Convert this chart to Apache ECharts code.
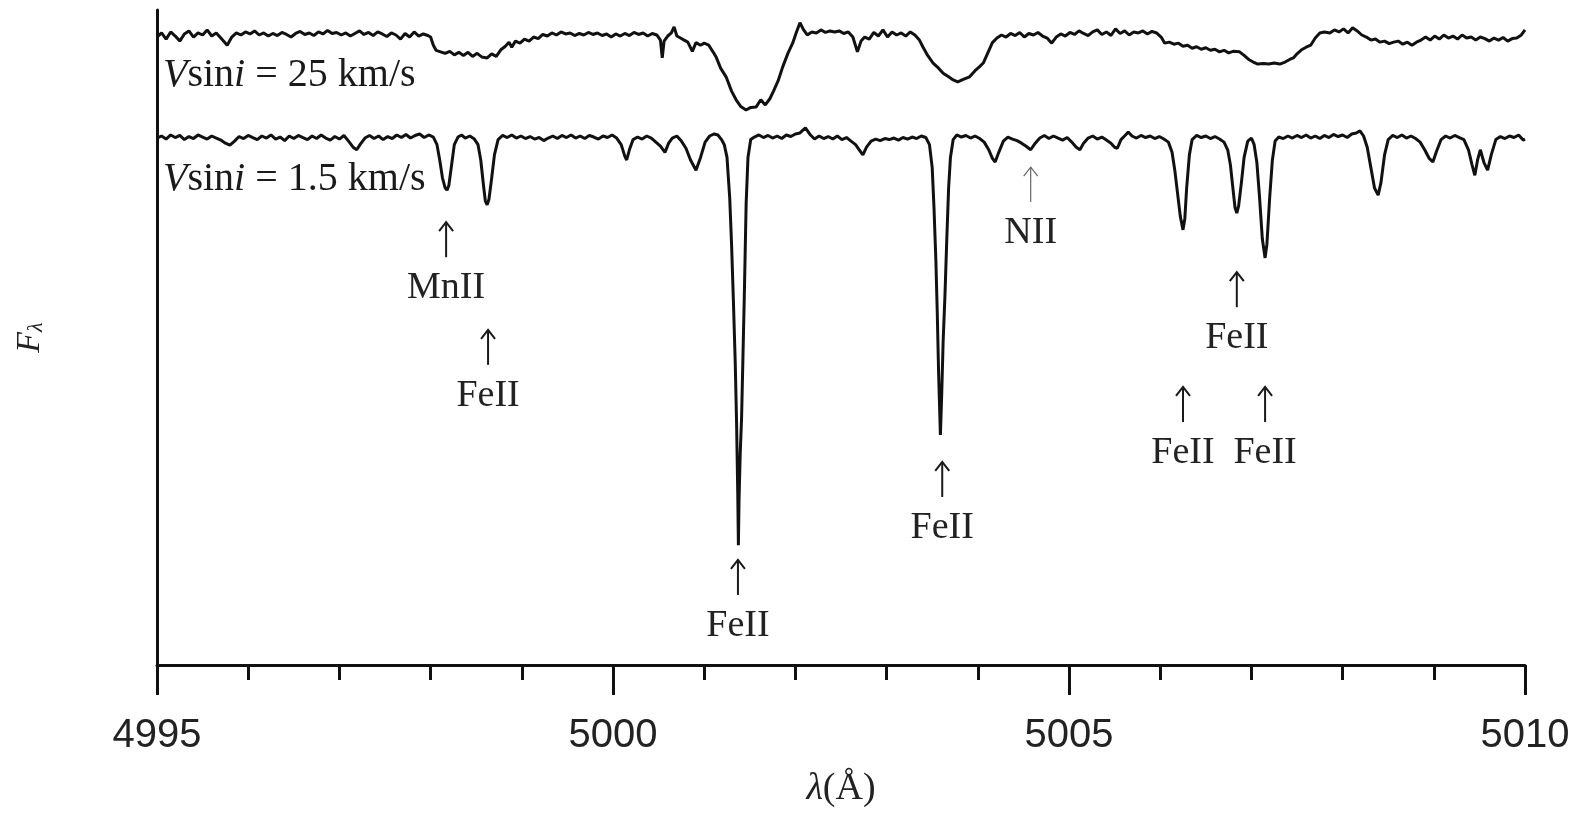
<!DOCTYPE html>
<html>
<head>
<meta charset="utf-8">
<title>Spectra</title>
<script src="https://cdn.jsdelivr.net/npm/echarts/dist/echarts.min.js"></script>
<style>
  html, body { margin: 0; padding: 0; background: #fff; }
  #chart { width: 1576px; height: 813px; }
</style>
</head>
<body>
<div id="chart"></div>
<script>
// Vsini = 1.5 km/s, normalised flux (continuum = 1)
const slowSpectrum = [
  [4995.00,0.998],[4995.05,1.002],[4995.10,0.996],[4995.15,1.004],[4995.20,0.999],[4995.25,1.003],
  [4995.30,0.995],[4995.35,1.001],[4995.40,0.997],[4995.45,1.004],[4995.50,1.000],[4995.55,0.996],
  [4995.60,1.002],[4995.65,0.998],[4995.70,0.994],[4995.75,0.988],[4995.80,0.984],[4995.85,0.992],
  [4995.90,1.001],[4995.95,0.997],[4996.00,1.003],[4996.05,0.999],[4996.10,0.995],[4996.15,1.002],
  [4996.20,0.998],[4996.25,1.004],[4996.30,0.996],[4996.35,1.000],[4996.40,0.993],[4996.45,1.002],
  [4996.50,0.997],[4996.55,1.003],[4996.60,0.999],[4996.65,0.995],[4996.70,1.002],[4996.75,0.997],
  [4996.80,1.004],[4996.85,0.998],[4996.90,0.994],[4996.95,1.001],[4997.00,0.996],[4997.05,1.003],
  [4997.10,0.992],[4997.15,0.980],[4997.19,0.975],[4997.23,0.986],[4997.28,0.998],[4997.33,1.003],
  [4997.38,0.997],[4997.43,1.002],[4997.48,0.995],[4997.53,1.001],[4997.58,0.997],[4997.63,1.004],
  [4997.68,0.999],[4997.73,1.005],[4997.78,0.998],[4997.83,1.003],[4997.88,1.006],[4997.93,0.999],
  [4997.98,1.004],[4998.03,1.000],[4998.07,0.985],[4998.10,0.955],[4998.13,0.920],[4998.16,0.900],
  [4998.18,0.896],[4998.20,0.905],[4998.23,0.945],[4998.26,0.985],[4998.30,1.000],[4998.34,1.004],
  [4998.38,0.998],[4998.43,1.002],[4998.48,0.996],[4998.52,0.985],[4998.55,0.955],[4998.58,0.905],
  [4998.60,0.875],[4998.62,0.867],[4998.64,0.878],[4998.67,0.920],[4998.70,0.965],[4998.74,0.995],
  [4998.79,1.003],[4998.84,0.999],[4998.89,1.004],[4998.94,0.998],[4998.99,1.002],[4999.04,0.997],
  [4999.09,1.001],[4999.14,0.996],[4999.19,0.999],[4999.24,0.993],[4999.29,0.998],[4999.34,1.002],
  [4999.39,0.997],[4999.44,1.003],[4999.49,0.999],[4999.54,1.004],[4999.59,0.998],[4999.64,1.002],
  [4999.69,0.997],[4999.74,1.003],[4999.79,1.000],[4999.84,0.996],[4999.89,1.002],[4999.94,0.999],
  [4999.99,1.004],[5000.04,0.998],[5000.09,0.985],[5000.13,0.962],[5000.15,0.955],[5000.18,0.975],
  [5000.22,0.995],[5000.27,1.000],[5000.32,0.996],[5000.37,1.002],[5000.42,0.998],[5000.47,0.990],
  [5000.52,0.982],[5000.57,0.970],[5000.61,0.988],[5000.65,0.998],[5000.70,1.002],[5000.75,0.992],
  [5000.80,0.978],[5000.85,0.955],[5000.91,0.935],[5000.96,0.960],[5001.01,0.990],[5001.06,1.002],
  [5001.11,1.006],[5001.15,1.004],[5001.19,0.995],[5001.22,0.985],[5001.25,0.960],[5001.28,0.880],
  [5001.30,0.790],[5001.32,0.680],[5001.34,0.560],[5001.355,0.440],[5001.368,0.300],[5001.375,0.200],
  [5001.382,0.290],[5001.395,0.380],[5001.41,0.450],[5001.425,0.570],[5001.44,0.690],[5001.46,0.870],
  [5001.48,0.960],[5001.51,0.995],[5001.55,1.000],[5001.60,1.004],[5001.65,0.999],[5001.70,1.003],
  [5001.75,0.998],[5001.80,1.002],[5001.85,0.997],[5001.90,1.004],[5001.95,1.001],[5002.00,1.006],
  [5002.05,1.008],[5002.11,1.018],[5002.16,1.005],[5002.21,0.996],[5002.26,1.002],[5002.31,0.997],
  [5002.36,1.001],[5002.41,0.996],[5002.46,1.002],[5002.51,0.995],[5002.56,0.999],[5002.61,0.992],
  [5002.66,0.985],[5002.70,0.975],[5002.74,0.965],[5002.78,0.980],[5002.83,0.992],[5002.88,0.996],
  [5002.93,0.993],[5002.98,0.997],[5003.03,0.995],[5003.08,0.998],[5003.13,0.994],[5003.18,0.999],
  [5003.23,0.996],[5003.28,1.000],[5003.33,0.997],[5003.38,1.002],[5003.43,0.999],[5003.47,0.985],
  [5003.50,0.940],[5003.52,0.860],[5003.54,0.760],[5003.555,0.660],[5003.57,0.540],[5003.59,0.416],
  [5003.605,0.500],[5003.62,0.600],[5003.64,0.690],[5003.66,0.800],[5003.68,0.900],[5003.70,0.960],
  [5003.73,0.995],[5003.77,1.004],[5003.82,1.000],[5003.87,1.003],[5003.92,0.998],[5003.97,1.002],
  [5004.02,0.997],[5004.07,0.990],[5004.12,0.975],[5004.16,0.958],[5004.19,0.951],[5004.23,0.970],
  [5004.28,0.992],[5004.33,1.000],[5004.38,0.996],[5004.43,0.993],[5004.48,0.988],[5004.53,0.982],
  [5004.58,0.975],[5004.63,0.988],[5004.68,0.998],[5004.73,1.003],[5004.78,0.997],[5004.83,1.002],
  [5004.88,0.998],[5004.93,0.994],[5004.98,0.999],[5005.03,0.990],[5005.08,0.980],[5005.12,0.975],
  [5005.16,0.988],[5005.21,0.998],[5005.26,1.002],[5005.31,0.996],[5005.36,1.000],[5005.41,0.994],
  [5005.46,0.988],[5005.50,0.980],[5005.53,0.978],[5005.57,0.995],[5005.62,1.004],[5005.65,1.010],
  [5005.69,1.002],[5005.74,0.998],[5005.79,1.003],[5005.84,0.999],[5005.89,1.002],[5005.94,0.997],
  [5005.99,1.001],[5006.04,0.996],[5006.09,0.990],[5006.13,0.970],[5006.16,0.935],[5006.19,0.890],
  [5006.22,0.845],[5006.25,0.818],[5006.27,0.840],[5006.29,0.900],[5006.32,0.965],[5006.35,0.995],
  [5006.40,1.003],[5006.45,0.999],[5006.50,1.002],[5006.55,0.997],[5006.60,1.001],[5006.65,0.996],
  [5006.70,0.990],[5006.74,0.975],[5006.77,0.945],[5006.80,0.895],[5006.82,0.862],[5006.84,0.851],
  [5006.86,0.865],[5006.89,0.910],[5006.92,0.960],[5006.96,0.992],[5007.00,0.998],[5007.03,0.985],
  [5007.06,0.950],[5007.09,0.880],[5007.12,0.800],[5007.15,0.763],[5007.17,0.790],[5007.20,0.880],
  [5007.23,0.955],[5007.26,0.992],[5007.30,1.000],[5007.35,0.997],[5007.40,1.002],[5007.45,0.998],
  [5007.50,1.003],[5007.55,0.999],[5007.60,1.004],[5007.65,0.998],[5007.70,1.002],[5007.75,0.997],
  [5007.80,1.003],[5007.85,0.999],[5007.90,1.005],[5007.95,1.001],[5008.00,1.004],[5008.05,0.999],
  [5008.10,1.006],[5008.15,1.008],[5008.19,1.012],[5008.23,1.002],[5008.27,0.980],[5008.31,0.940],
  [5008.35,0.900],[5008.39,0.886],[5008.42,0.910],[5008.46,0.965],[5008.50,0.995],[5008.55,1.003],
  [5008.60,0.999],[5008.65,1.004],[5008.70,0.998],[5008.75,1.002],[5008.80,0.997],[5008.85,0.990],
  [5008.90,0.975],[5008.95,0.958],[5008.99,0.951],[5009.03,0.972],[5009.08,0.995],[5009.13,1.002],
  [5009.18,0.998],[5009.23,1.003],[5009.28,0.999],[5009.33,0.995],[5009.38,0.975],[5009.42,0.945],
  [5009.45,0.925],[5009.48,0.955],[5009.51,0.975],[5009.55,0.950],[5009.59,0.935],[5009.63,0.965],
  [5009.68,0.995],[5009.73,1.001],[5009.78,0.997],[5009.83,1.002],[5009.88,0.999],[5009.93,1.004],
  [5009.98,0.994],[5010.00,0.996]
];

// Vsini = 25 km/s, shifted up by 0.2
const fastSpectrum = [
  [4995.00,1.196],[4995.05,1.204],[4995.10,1.192],[4995.15,1.206],[4995.20,1.198],[4995.25,1.188],
  [4995.30,1.202],[4995.35,1.208],[4995.40,1.196],[4995.45,1.204],[4995.50,1.200],[4995.55,1.210],
  [4995.60,1.198],[4995.65,1.204],[4995.70,1.194],[4995.77,1.180],[4995.82,1.196],[4995.87,1.204],
  [4995.92,1.200],[4995.97,1.206],[4996.02,1.202],[4996.07,1.208],[4996.12,1.200],[4996.17,1.204],
  [4996.22,1.198],[4996.27,1.203],[4996.32,1.199],[4996.37,1.205],[4996.42,1.201],[4996.47,1.196],
  [4996.52,1.203],[4996.57,1.207],[4996.62,1.201],[4996.67,1.204],[4996.72,1.199],[4996.77,1.206],
  [4996.82,1.202],[4996.87,1.209],[4996.92,1.203],[4996.97,1.205],[4997.02,1.200],[4997.07,1.204],
  [4997.12,1.198],[4997.17,1.203],[4997.22,1.208],[4997.27,1.201],[4997.32,1.205],[4997.37,1.199],
  [4997.42,1.206],[4997.47,1.202],[4997.52,1.197],[4997.57,1.204],[4997.62,1.200],[4997.67,1.192],
  [4997.72,1.203],[4997.77,1.196],[4997.82,1.206],[4997.87,1.198],[4997.92,1.202],[4997.97,1.199],
  [4998.00,1.196],[4998.03,1.180],[4998.06,1.170],[4998.11,1.167],[4998.16,1.164],[4998.21,1.168],
  [4998.26,1.161],[4998.31,1.166],[4998.36,1.160],[4998.41,1.166],[4998.46,1.158],[4998.51,1.164],
  [4998.56,1.157],[4998.62,1.155],[4998.67,1.163],[4998.72,1.158],[4998.77,1.171],[4998.82,1.178],
  [4998.86,1.186],[4998.89,1.176],[4998.93,1.188],[4998.98,1.184],[4999.03,1.192],[4999.08,1.188],
  [4999.13,1.196],[4999.18,1.193],[4999.23,1.201],[4999.28,1.198],[4999.33,1.204],[4999.38,1.200],
  [4999.43,1.206],[4999.48,1.202],[4999.53,1.204],[4999.58,1.199],[4999.63,1.203],[4999.68,1.200],
  [4999.73,1.205],[4999.78,1.201],[4999.83,1.204],[4999.88,1.199],[4999.93,1.202],[4999.98,1.196],
  [5000.03,1.202],[5000.08,1.198],[5000.13,1.203],[5000.18,1.199],[5000.23,1.205],[5000.28,1.201],
  [5000.33,1.204],[5000.38,1.198],[5000.43,1.203],[5000.48,1.200],[5000.52,1.190],[5000.54,1.155],
  [5000.56,1.188],[5000.60,1.198],[5000.64,1.204],[5000.67,1.216],[5000.70,1.198],[5000.74,1.194],
  [5000.78,1.190],[5000.82,1.186],[5000.87,1.168],[5000.91,1.185],[5000.96,1.180],[5001.00,1.184],
  [5001.05,1.180],[5001.10,1.166],[5001.13,1.157],[5001.18,1.135],[5001.24,1.118],[5001.30,1.090],
  [5001.35,1.073],[5001.40,1.060],[5001.46,1.053],[5001.51,1.058],[5001.57,1.059],[5001.62,1.073],
  [5001.67,1.063],[5001.72,1.075],[5001.76,1.090],[5001.81,1.110],[5001.86,1.137],[5001.92,1.165],
  [5001.97,1.184],[5002.01,1.205],[5002.05,1.224],[5002.09,1.210],[5002.13,1.200],[5002.18,1.206],
  [5002.23,1.204],[5002.28,1.210],[5002.33,1.205],[5002.38,1.208],[5002.43,1.206],[5002.48,1.208],
  [5002.53,1.203],[5002.58,1.206],[5002.63,1.196],[5002.68,1.167],[5002.72,1.188],[5002.76,1.196],
  [5002.81,1.192],[5002.86,1.205],[5002.91,1.198],[5002.96,1.210],[5003.01,1.196],[5003.06,1.206],
  [5003.11,1.200],[5003.16,1.204],[5003.21,1.198],[5003.26,1.206],[5003.31,1.200],[5003.36,1.190],
  [5003.40,1.176],[5003.45,1.160],[5003.51,1.145],[5003.57,1.135],[5003.62,1.125],[5003.68,1.118],
  [5003.73,1.112],[5003.78,1.108],[5003.84,1.113],[5003.91,1.118],[5003.97,1.130],[5004.02,1.138],
  [5004.06,1.145],[5004.11,1.165],[5004.16,1.185],[5004.21,1.194],[5004.26,1.200],[5004.31,1.196],
  [5004.36,1.203],[5004.41,1.199],[5004.46,1.205],[5004.51,1.196],[5004.56,1.203],[5004.61,1.200],
  [5004.66,1.205],[5004.71,1.198],[5004.76,1.194],[5004.81,1.184],[5004.86,1.196],[5004.91,1.202],
  [5004.96,1.198],[5005.01,1.205],[5005.06,1.201],[5005.11,1.208],[5005.16,1.203],[5005.21,1.199],
  [5005.26,1.206],[5005.31,1.210],[5005.36,1.201],[5005.41,1.206],[5005.46,1.199],[5005.51,1.212],
  [5005.56,1.203],[5005.61,1.208],[5005.66,1.200],[5005.71,1.206],[5005.76,1.204],[5005.81,1.208],
  [5005.86,1.202],[5005.91,1.207],[5005.96,1.204],[5006.01,1.196],[5006.05,1.184],[5006.10,1.186],
  [5006.15,1.182],[5006.20,1.184],[5006.25,1.178],[5006.30,1.180],[5006.35,1.174],[5006.40,1.177],
  [5006.45,1.172],[5006.50,1.175],[5006.55,1.170],[5006.60,1.172],[5006.65,1.167],[5006.70,1.170],
  [5006.75,1.165],[5006.80,1.168],[5006.87,1.167],[5006.92,1.160],[5006.97,1.152],[5007.02,1.147],
  [5007.07,1.143],[5007.13,1.144],[5007.19,1.143],[5007.25,1.145],[5007.31,1.143],[5007.37,1.147],
  [5007.42,1.152],[5007.46,1.155],[5007.50,1.163],[5007.55,1.171],[5007.60,1.176],[5007.65,1.180],
  [5007.70,1.194],[5007.75,1.204],[5007.80,1.206],[5007.86,1.204],[5007.91,1.210],[5007.96,1.206],
  [5008.01,1.212],[5008.06,1.204],[5008.11,1.214],[5008.16,1.208],[5008.21,1.200],[5008.26,1.196],
  [5008.31,1.190],[5008.36,1.192],[5008.41,1.186],[5008.46,1.188],[5008.51,1.183],[5008.56,1.186],
  [5008.61,1.188],[5008.66,1.182],[5008.71,1.186],[5008.76,1.180],[5008.81,1.186],[5008.86,1.190],
  [5008.91,1.196],[5008.96,1.190],[5009.01,1.198],[5009.06,1.192],[5009.11,1.200],[5009.16,1.194],
  [5009.21,1.198],[5009.26,1.192],[5009.31,1.200],[5009.36,1.194],[5009.41,1.196],[5009.46,1.190],
  [5009.51,1.196],[5009.56,1.193],[5009.61,1.188],[5009.66,1.194],[5009.71,1.190],[5009.76,1.195],
  [5009.81,1.188],[5009.86,1.193],[5009.91,1.194],[5009.96,1.200],[5010.00,1.210]
];

// line identifications: wavelength, flux level of the arrow tip, ion
const lineWave = [4998.17, 4998.63, 5001.37, 5003.61, 5004.58, 5006.84, 5006.25, 5007.15];
const lineTip = [0.833, 0.622, 0.171, 0.363, 0.941, 0.735, 0.510, 0.510];
const lineIon = ['MnII', 'FeII', 'FeII', 'FeII', 'NII', 'FeII', 'FeII', 'FeII'];

const serif = '"Liberation Serif", "Times New Roman", serif';
const sans = '"Liberation Sans", Arial, sans-serif';
const ink = '#111';

const chart = echarts.init(document.getElementById('chart'));

function vsiniText(rest) {
  return {
    text: '{it|V}{rm|sin}{it|i}{rm|' + rest + '}',
    rich: {
      it: { fontFamily: serif, fontStyle: 'italic', fontSize: 40, fill: '#1a1a1a' },
      rm: { fontFamily: serif, fontSize: 40, fill: '#1a1a1a' }
    },
    verticalAlign: 'middle'
  };
}

chart.setOption({
  animation: false,
  backgroundColor: '#fff',
  grid: { left: 157, right: 51, top: 10, bottom: 148, outerBoundsMode: 'none', containLabel: false },
  xAxis: {
    type: 'value',
    min: 4995,
    max: 5010,
    interval: 5,
    axisLine: { onZero: false, lineStyle: { color: ink, width: 3 } },
    axisTick: { show: true, inside: false, length: 30, lineStyle: { color: ink, width: 3 } },
    minorTick: { show: true, splitNumber: 5, length: 15, lineStyle: { color: ink, width: 3 } },
    splitLine: { show: false },
    axisLabel: { fontSize: 40, fontFamily: sans, color: '#222', margin: 51, formatter: v => String(v) },
    name: '{l|λ}{n|(Å)}',
    nameLocation: 'middle',
    nameGap: 105,
    nameTextStyle: {
      rich: {
        l: { fontFamily: serif, fontStyle: 'italic', fontSize: 38, color: '#222' },
        n: { fontFamily: serif, fontSize: 38, color: '#222' }
      }
    }
  },
  yAxis: {
    type: 'value',
    min: -0.035,
    max: 1.249,
    axisLine: { show: true, onZero: false, lineStyle: { color: ink, width: 3 } },
    axisTick: { show: false },
    axisLabel: { show: false },
    splitLine: { show: false },
    name: '{f|F}{s|λ}',
    nameLocation: 'middle',
    nameRotate: 90,
    nameGap: 110,
    nameTextStyle: {
      rich: {
        f: { fontFamily: serif, fontStyle: 'italic', fontSize: 34, color: '#222' },
        s: { fontFamily: serif, fontStyle: 'italic', fontSize: 22, color: '#222', verticalAlign: 'bottom', padding: [12, 0, 0, 0] }
      }
    }
  },
  graphic: [
    { type: 'text', left: 163, top: 55, style: vsiniText(' = 25 km/s') },
    { type: 'text', left: 163, top: 159, style: vsiniText(' = 1.5 km/s') }
  ],
  series: [
    {
      name: 'Vsini = 25 km/s',
      type: 'line',
      data: fastSpectrum,
      showSymbol: false,
      lineStyle: { color: ink, width: 3 },
      z: 3
    },
    {
      name: 'Vsini = 1.5 km/s',
      type: 'line',
      data: slowSpectrum,
      showSymbol: false,
      lineStyle: { color: ink, width: 3 },
      z: 3
    },
    {
      // arrows + ion labels
      type: 'custom',
      data: lineWave.map((w, i) => [w, lineTip[i]]),
      renderItem(params, api) {
        const p = api.coord([api.value(0), api.value(1)]);
        const faint = lineIon[params.dataIndex] === 'NII';
        const col = faint ? '#666' : '#1a1a1a';
        const lw = faint ? 1.2 : 2;
        return {
          type: 'group',
          children: [
            { type: 'line', shape: { x1: p[0], y1: p[1], x2: p[0], y2: p[1] + 35 }, style: { stroke: col, lineWidth: lw } },
            { type: 'polyline', shape: { points: [[p[0] - 7, p[1] + 9], [p[0], p[1]], [p[0] + 7, p[1] + 9]] }, style: { stroke: col, lineWidth: lw, fill: null } },
            {
              type: 'text', x: p[0], y: p[1] + 66,
              style: { text: lineIon[params.dataIndex], font: '38px ' + serif, fill: '#222', align: 'center', verticalAlign: 'middle' }
            }
          ]
        };
      },
      z: 4
    }
  ]
});
</script>
</body>
</html>
